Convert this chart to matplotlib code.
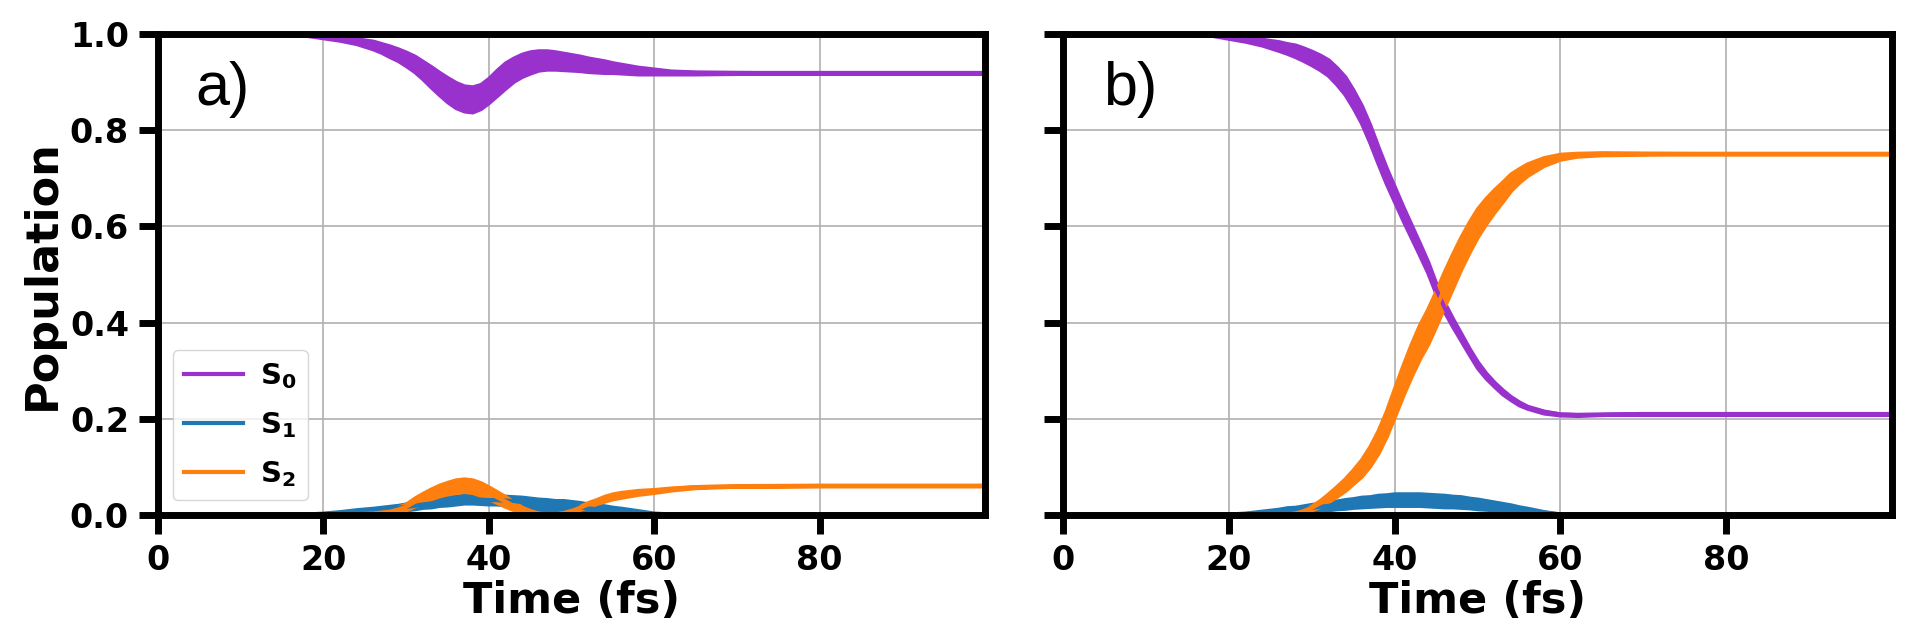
import numpy as np
import matplotlib.pyplot as plt
from matplotlib.ticker import FormatStrFormatter

# time grid (fs) shared by both panels
time_fs = [0, 10, 18, 20, 22, 24,
           26, 27, 28, 29, 30, 31, 32, 33, 34, 35, 36, 37, 38, 39, 40,
           41, 42, 43, 44, 45, 46, 47, 48, 49, 50, 51, 52, 53, 54, 55, 56,
           58, 60, 62, 65, 70, 80, 100]

# panel a) : centre of the fast oscillation and its half amplitude
a_s0_mid = [1.0, 1.0, 0.998, 0.994, 0.990, 0.985,
            0.977, 0.971, 0.964, 0.957, 0.948, 0.938, 0.925, 0.911, 0.897, 0.884,
            0.873, 0.866, 0.864, 0.870, 0.883, 0.899, 0.914, 0.926, 0.935, 0.941,
            0.945, 0.946, 0.945, 0.943, 0.941, 0.939, 0.936, 0.934, 0.932, 0.930, 0.928,
            0.924, 0.922, 0.920, 0.919, 0.919, 0.919, 0.919]
a_s0_amp = [0, 0, 0.001, 0.002, 0.003, 0.005,
            0.008, 0.009, 0.011, 0.012, 0.014, 0.016, 0.018, 0.021, 0.023, 0.025,
            0.026, 0.026, 0.026, 0.025, 0.025, 0.026, 0.026, 0.024, 0.023, 0.022,
            0.020, 0.019, 0.018, 0.017, 0.016, 0.015, 0.014, 0.013, 0.012, 0.010, 0.009,
            0.007, 0.005, 0.003, 0.002, 0.001, 0, 0]
a_s1_mid = [0, 0, 0.001, 0.002, 0.004, 0.007,
            0.010, 0.011, 0.013, 0.015, 0.017, 0.019, 0.022, 0.024, 0.027, 0.029,
            0.031, 0.033, 0.033, 0.032, 0.031, 0.031, 0.030, 0.029, 0.027, 0.025,
            0.022, 0.021, 0.019, 0.019, 0.018, 0.016, 0.014, 0.012, 0.011, 0.009, 0.008,
            0.005, 0.002, 0.001, 0, 0, 0, 0]
a_s1_amp = [0, 0, 0.001, 0.002, 0.003, 0.004,
            0.004, 0.005, 0.005, 0.005, 0.006, 0.006, 0.006, 0.007, 0.007, 0.008,
            0.008, 0.008, 0.008, 0.008, 0.008, 0.008, 0.009, 0.009, 0.010, 0.010,
            0.011, 0.011, 0.011, 0.011, 0.010, 0.010, 0.009, 0.009, 0.008, 0.007, 0.006,
            0.004, 0.002, 0.001, 0, 0, 0, 0]
a_s2_mid = [0, 0, 0, 0, 0, 0.001,
            0.003, 0.005, 0.007, 0.011, 0.017, 0.027, 0.036, 0.044, 0.051, 0.056,
            0.060, 0.062, 0.060, 0.054, 0.046, 0.037, 0.028, 0.019, 0.010, 0.005,
            0.002, 0.001, 0.001, 0.003, 0.008, 0.015, 0.022, 0.028, 0.034, 0.039, 0.042,
            0.047, 0.050, 0.054, 0.058, 0.060, 0.061, 0.061]
a_s2_amp = [0, 0, 0, 0, 0, 0.001,
            0.002, 0.003, 0.004, 0.005, 0.006, 0.008, 0.009, 0.010, 0.011, 0.012,
            0.013, 0.013, 0.013, 0.013, 0.012, 0.011, 0.010, 0.008, 0.006, 0.004,
            0.002, 0.001, 0.001, 0.002, 0.002, 0.003, 0.004, 0.004, 0.005, 0.005, 0.005,
            0.004, 0.003, 0.002, 0.001, 0, 0, 0]

# panel b)
b_s0_mid = [1.0, 1.0, 0.998, 0.993, 0.989, 0.983,
            0.975, 0.970, 0.965, 0.958, 0.950, 0.941, 0.930, 0.913, 0.893, 0.865,
            0.833, 0.793, 0.748, 0.705, 0.666, 0.627, 0.590, 0.553, 0.515, 0.470,
            0.432, 0.400, 0.370, 0.340, 0.312, 0.290, 0.272, 0.256, 0.243, 0.232, 0.224,
            0.214, 0.209, 0.208, 0.209, 0.210, 0.210, 0.210]
b_s0_amp = [0, 0, 0.001, 0.002, 0.004, 0.006,
            0.009, 0.010, 0.012, 0.013, 0.014, 0.015, 0.016, 0.017, 0.018, 0.018,
            0.018, 0.018, 0.017, 0.016, 0.015, 0.014, 0.013, 0.012, 0.011, 0.010,
            0.009, 0.008, 0.007, 0.006, 0.006, 0.005, 0.004, 0.004, 0.003, 0.003, 0.002,
            0.002, 0.001, 0.001, 0, 0, 0, 0]
b_s1_mid = [0, 0, 0, 0.001, 0.002, 0.005,
            0.008, 0.010, 0.011, 0.013, 0.015, 0.017, 0.019, 0.021, 0.023, 0.025,
            0.027, 0.028, 0.030, 0.031, 0.032, 0.032, 0.032, 0.032, 0.031, 0.030,
            0.029, 0.028, 0.027, 0.025, 0.023, 0.021, 0.019, 0.017, 0.015, 0.012, 0.010,
            0.005, 0.001, 0, 0, 0, 0, 0]
b_s1_amp = [0, 0, 0, 0.001, 0.002, 0.003,
            0.004, 0.005, 0.005, 0.006, 0.007, 0.007, 0.008, 0.008, 0.009, 0.009,
            0.010, 0.010, 0.011, 0.011, 0.012, 0.012, 0.012, 0.012, 0.012, 0.012,
            0.012, 0.011, 0.011, 0.010, 0.010, 0.009, 0.008, 0.007, 0.006, 0.005, 0.004,
            0.002, 0.001, 0, 0, 0, 0, 0]
b_s2_mid = [0, 0, 0, 0, 0, 0,
            0, 0.001, 0.003, 0.008, 0.015, 0.024, 0.036, 0.049, 0.063, 0.080,
            0.098, 0.122, 0.152, 0.190, 0.235, 0.280, 0.322, 0.360, 0.392, 0.430,
            0.470, 0.508, 0.545, 0.578, 0.608, 0.632, 0.653, 0.672, 0.692, 0.706, 0.718,
            0.735, 0.745, 0.749, 0.751, 0.751, 0.751, 0.751]
b_s2_amp = [0, 0, 0, 0, 0, 0,
            0, 0.001, 0.002, 0.003, 0.004, 0.006, 0.008, 0.010, 0.012, 0.014,
            0.017, 0.020, 0.023, 0.026, 0.029, 0.031, 0.033, 0.035, 0.036, 0.036,
            0.036, 0.035, 0.033, 0.031, 0.029, 0.026, 0.023, 0.020, 0.017, 0.014, 0.012,
            0.008, 0.005, 0.003, 0.002, 0.001, 0, 0]

state_labels = [r'$\mathbf{S_0}$', r'$\mathbf{S_1}$', r'$\mathbf{S_2}$']
state_colors = ['darkorchid', '#1f77b4', '#ff7f0e']
x_ticks = [0, 20, 40, 60, 80]
y_ticks = [0.0, 0.2, 0.4, 0.6, 0.8, 1.0]


def draw_panel(ax, mids, amps, tag, tag_x):
    t = np.array(time_fs)
    for mid, amp, color, name in zip(mids, amps, state_colors, state_labels):
        mid = np.array(mid)
        amp = np.array(amp)
        lo = np.clip(mid - amp, 0, None)
        hi = mid + amp
        ax.fill_between(t, lo, hi, facecolor=color, edgecolor=color, linewidth=3)
        ax.plot(t, mid, color=color, lw=3, label=name)

    ax.set_xlim(0, 100)
    ax.set_ylim(0, 1)
    ax.set_xticks(x_ticks)
    ax.set_yticks(y_ticks)
    ax.yaxis.set_major_formatter(FormatStrFormatter('%.1f'))
    ax.grid(True, color='#b0b0b0', lw=1.2)
    ax.set_axisbelow(True)
    for sp in ax.spines.values():
        sp.set_linewidth(5)
    ax.tick_params(width=5, length=14, pad=7, labelsize=24)
    for lab in ax.get_xticklabels() + ax.get_yticklabels():
        lab.set_fontweight('bold')
    ax.set_xlabel('Time (fs)', fontsize=31, fontweight='bold', labelpad=2)
    ax.text(tag_x, 0.885, tag, transform=ax.transAxes, ha='left', va='center',
            fontsize=44, family='Liberation Sans')


fig = plt.figure(figsize=(19.3, 6.4), dpi=100)
ax1 = fig.add_axes([0.0819, 0.1953, 0.4285, 0.7516])
ax2 = fig.add_axes([0.5508, 0.1953, 0.4295, 0.7516])

draw_panel(ax1, [a_s0_mid, a_s1_mid, a_s2_mid], [a_s0_amp, a_s1_amp, a_s2_amp], 'a)', 0.045)
draw_panel(ax2, [b_s0_mid, b_s1_mid, b_s2_mid], [b_s0_amp, b_s1_amp, b_s2_amp], 'b)', 0.048)

ax1.set_ylabel('Population', fontsize=32, fontweight='bold', labelpad=4)
ax2.tick_params(labelleft=False)

ax1.legend(loc='lower left', prop={'size': 21, 'weight': 'bold'}, handlelength=2.0,
           labelspacing=0.65, handletextpad=0.6, borderaxespad=0.5)

plt.savefig('out.png', dpi=100)
